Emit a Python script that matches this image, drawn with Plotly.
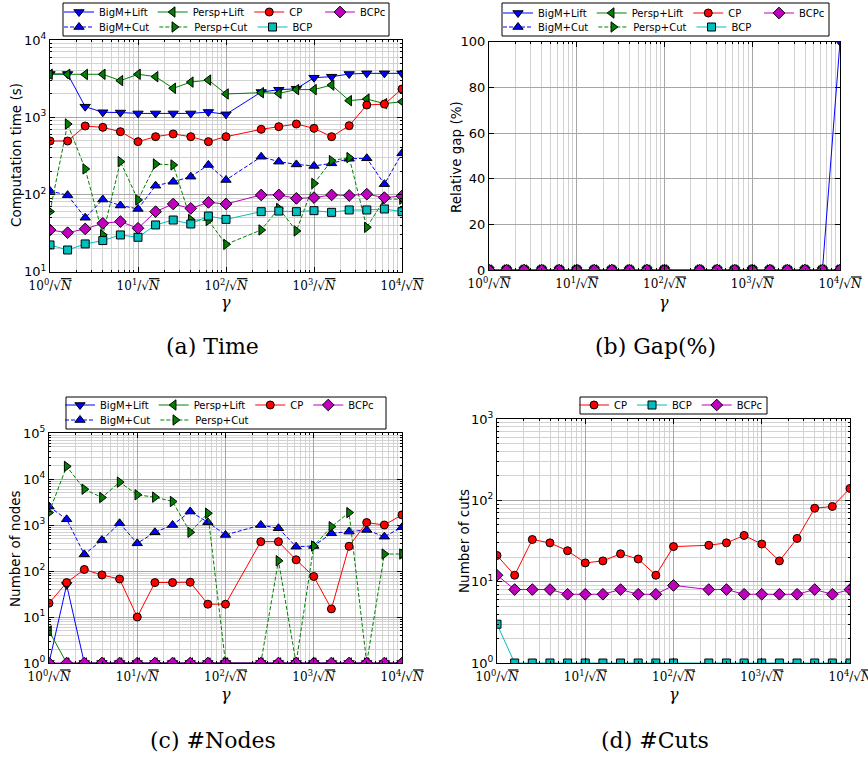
import plotly.graph_objects as go

W, H = 868, 760

# gamma * sqrt(N)  (x positions, log scale)
gamma = [1.0, 1.585, 2.512, 3.981, 6.310, 10.0, 15.85, 25.12, 39.81, 63.10, 100.0,
         251.2, 398.1, 631.0, 1000.0, 1585.0, 2512.0, 3981.0, 6310.0, 10000.0]

x_tick_vals = [1, 10, 100, 1000, 10000]
x_tick_text = ["10<sup>0</sup>/√<span style='text-decoration:overline'><i>N</i></span>",
               "10<sup>1</sup>/√<span style='text-decoration:overline'><i>N</i></span>",
               "10<sup>2</sup>/√<span style='text-decoration:overline'><i>N</i></span>",
               "10<sup>3</sup>/√<span style='text-decoration:overline'><i>N</i></span>",
               "10<sup>4</sup>/√<span style='text-decoration:overline'><i>N</i></span>"]

# (a) computation time (s)
time_bigm_lift = [3630, 3630, 1370, 1160, 1150, 1120, 1120, 1120, 1120, 1170, 1090,
                  2120, 2270, 2340, 3250, 3350, 3630, 3700, 3700, 3700]
time_bigm_cut = [111, 98, 50, 86, 72, 65, 130, 146, 170, 241, 154,
                 308, 266, 245, 234, 253, 290, 294, 136, 341]
time_persp_lift = [3600, 3600, 3580, 3600, 2980, 3600, 3350, 2370, 2850, 3030, 2000,
                   2080, 2040, 2280, 2280, 2610, 1640, 1720, 1500, 1590]
time_persp_cut = [60, 817, 214, 30, 266, 85, 248, 241, 47, 46, 22.6,
                  34.7, 66, 33.7, 139, 274, 300, 37.5, 87, 87]
time_cp = [492, 492, 770, 740, 650, 483, 560, 607, 560, 483, 560,
           697, 755, 817, 718, 560, 778, 1440, 1480, 2320]
time_bcp = [22.2, 19.1, 22.9, 25.3, 29.9, 27.9, 40.3, 46.7, 41.5, 52.6, 47.6,
            59.9, 61, 59.9, 61.7, 58.7, 63, 63, 64.9, 59.9]
time_bcpc = [34.7, 32, 35.8, 42.3, 44.5, 36.5, 59.9, 75.3, 66, 79, 75.3,
             98.5, 98.5, 89, 91, 98.5, 97, 101, 91, 95.5]

# (b) relative gap (%)
gap_bigm_lift = [0, 0, 0, 0, 0, 0, 0, 0, 0, 0, 0, 0, 0, 0, 0, 0, 0, 0, 0, 100]
gap_bigm_cut = [0, 0, 0, 0, 0, 0, 0, 0, 0, 0, 0, 0, 0, 0, 0, 0, 0, 0, 0, 0]
gap_persp_lift = [0, 0, 0, 0, 0, 0, 0, 0, 0, 0, 0, 0, 0, 0, 0, 0, 0, 0, 0, 0]
gap_persp_cut = [0, 0, 0, 0, 0, 0, 0, 0, 0, 0, 0, 0, 0, 0, 0, 0, 0, 0, 0, 0]
gap_cp = [0, 0, 0, 0, 0, 0, 0, 0, 0, 0, 0, 0, 0, 0, 0, 0, 0, 0, 0, 0]
gap_bcp = [0, 0, 0, 0, 0, 0, 0, 0, 0, 0, 0, 0, 0, 0, 0, 0, 0, 0, 0, 0]
gap_bcpc = [0, 0, 0, 0, 0, 0, 0, 0, 0, 0, 0, 0, 0, 0, 0, 0, 0, 0, 0, 0]

# (c) number of nodes
nodes_bigm_lift = [1, 50, 1, 1, 1, 1, 1, 1, 1, 1, 1, 1, 1, 1, 1, 1, 1, 1, 1, 1]
nodes_bigm_cut = [2520, 1330, 230, 470, 1090, 400, 695, 1000, 1960, 1150, 607,
                  1000, 850, 338, 350, 660, 718, 780, 558, 893]
nodes_persp_lift = [5, 1, 1, 1, 1, 1, 1, 1, 1, 1, 1, 1, 1, 1, 1, 1, 1, 1, 1, 1]
nodes_persp_cut = [1860, 18800, 6000, 3960, 8550, 4530, 4030, 3240, 695, 1800, 1,
                   1, 167, 1, 350, 920, 1860, 1, 234, 234]
nodes_cp = [20, 56, 108, 82, 67, 10, 56, 56, 57, 19, 19,
            434, 434, 175, 76, 15, 345, 1130, 1000, 1660]
nodes_bcpc = [1, 1, 1, 1, 1, 1, 1, 1, 1, 1, 1, 1, 1, 1, 1, 1, 1, 1, 1, 1]

# (d) number of cuts
cuts_cp = [21, 12, 33, 30, 24, 17, 18, 22, 19, 12, 27,
           28, 30, 37, 29, 18, 34, 80, 84, 140]
cuts_bcp = [3, 1, 1, 1, 1, 1, 1, 1, 1, 1, 1, 1, 1, 1, 1, 1, 1, 1, 1, 1]
cuts_bcpc = [12, 8, 8, 8, 7, 7, 7, 8, 7, 7, 9, 8, 8, 7, 7, 7, 7, 8, 7, 8]

STY = {
    'BigM+Lift': dict(color='#0000ff', symbol='triangle-down', dash='solid', size=9),
    'BigM+Cut': dict(color='#0000ff', symbol='triangle-up', dash='4px,2px', size=9),
    'Persp+Lift': dict(color='#008000', symbol='triangle-left', dash='solid', size=9),
    'Persp+Cut': dict(color='#008000', symbol='triangle-right', dash='4px,2px', size=9),
    'CP': dict(color='#ff0000', symbol='circle', dash='solid', size=8),
    'BCP': dict(color='#00bfbf', symbol='square', dash='solid', size=8),
    'BCPc': dict(color='#bf00bf', symbol='diamond', dash='solid', size=9),
}
ROW1 = ['BigM+Lift', 'Persp+Lift', 'CP', 'BCPc']

panels = [
    ('x', 'y', ['legend', 'legend2'], [
        ('BigM+Lift', time_bigm_lift), ('BigM+Cut', time_bigm_cut),
        ('Persp+Lift', time_persp_lift), ('Persp+Cut', time_persp_cut),
        ('CP', time_cp), ('BCP', time_bcp), ('BCPc', time_bcpc)]),
    ('x2', 'y2', ['legend3', 'legend4'], [
        ('BigM+Lift', gap_bigm_lift), ('BigM+Cut', gap_bigm_cut),
        ('Persp+Lift', gap_persp_lift), ('Persp+Cut', gap_persp_cut),
        ('CP', gap_cp), ('BCP', gap_bcp), ('BCPc', gap_bcpc)]),
    ('x3', 'y3', ['legend5', 'legend6'], [
        ('BigM+Lift', nodes_bigm_lift), ('BigM+Cut', nodes_bigm_cut),
        ('Persp+Lift', nodes_persp_lift), ('Persp+Cut', nodes_persp_cut),
        ('CP', nodes_cp), ('BCPc', nodes_bcpc)]),
    ('x4', 'y4', ['legend7', 'legend7'], [
        ('CP', cuts_cp), ('BCP', cuts_bcp), ('BCPc', cuts_bcpc)]),
]

NB = '\u00a0'
pad_names = {'legend': {'CP': 'CP' + NB * 4}, 'legend3': {'CP': 'CP' + NB * 4}}

fig = go.Figure()
for xa, ya, legs, series in panels:
    for name, vals in series:
        s = STY[name]
        leg = legs[0] if name in ROW1 else legs[1]
        disp = pad_names.get(leg, {}).get(name, name)
        fig.add_trace(go.Scatter(
            x=gamma, y=vals, xaxis=xa, yaxis=ya, name=disp, legend=leg,
            mode='lines+markers',
            line=dict(color=s['color'], width=1, dash=s['dash']),
            marker=dict(symbol=s['symbol'], size=s['size'], color=s['color'],
                        line=dict(color='black', width=1)),
        ))


def px(p):
    return p / W


def py(p):
    return 1 - p / H


# plot areas in pixels: (left, right, top, bottom)
boxes = {
    '': (50, 402, 40, 271.7),
    '2': (489, 840, 41.7, 270),
    '3': (49, 402, 433, 663),
    '4': (497, 850, 419, 663),
}

minor_x = [m * 10 ** k for k in range(4) for m in range(2, 10)]
GRID_MAJ = '#a6a6a6'
GRID_MIN = '#d2d2d2'
TICKFONT_X = dict(family='DejaVu Serif', size=12, color='black')
TICKFONT_Y = dict(family='DejaVu Sans', size=13, color='black')

ylog = {
    '': (1, 4),
    '3': (0, 5),
    '4': (0, 3),
}

layout = dict(width=W, height=H, margin=dict(l=0, r=0, t=0, b=0, pad=0, autoexpand=False),
              paper_bgcolor='white', plot_bgcolor='white', showlegend=True)

for k, (l, r, t, b) in boxes.items():
    xname = 'xaxis' + k
    yname = 'yaxis' + k
    layout[xname] = dict(
        type='log', range=[0, 4], domain=[px(l), px(r)], anchor='y' + k,
        tickmode='array', tickvals=x_tick_vals, ticktext=x_tick_text, automargin=False,
        ticklabeloverflow='allow', ticklabelstandoff=3,
        tickfont=TICKFONT_X, ticks='inside', ticklen=5, tickcolor='black',
        showline=True, linecolor='black', linewidth=1, mirror='ticks',
        showgrid=True, gridcolor=GRID_MAJ, gridwidth=1, zeroline=False,
        minor=dict(tickmode='array', tickvals=minor_x, ticks='inside', ticklen=2,
                   tickcolor='black', showgrid=True, gridcolor=GRID_MIN, gridwidth=1),
    )
    if k in ylog:
        lo, hi = ylog[k]
        tv = [10 ** e for e in range(lo, hi + 1)]
        tt = ['10<sup>%d</sup>' % e for e in range(lo, hi + 1)]
        mv = [m * 10 ** e for e in range(lo, hi) for m in range(2, 10)]
        layout[yname] = dict(
            type='log', range=[lo, hi], domain=[py(b), py(t)], anchor='x' + k,
            tickmode='array', tickvals=tv, ticktext=tt, tickfont=TICKFONT_Y, automargin=False,
            ticks='inside', ticklen=5, tickcolor='black',
            showline=True, linecolor='black', linewidth=1, mirror='ticks',
            showgrid=True, gridcolor=GRID_MAJ, gridwidth=1, zeroline=False,
            minor=dict(tickmode='array', tickvals=mv, ticks='inside', ticklen=2,
                       tickcolor='black', showgrid=True, gridcolor=GRID_MIN, gridwidth=1),
        )
    else:
        layout[yname] = dict(
            type='linear', range=[0, 100], domain=[py(b), py(t)], anchor='x' + k,
            tickmode='linear', tick0=0, dtick=20, tickfont=TICKFONT_Y, automargin=False,
            ticks='inside', ticklen=5, tickcolor='black',
            showline=True, linecolor='black', linewidth=1, mirror='ticks',
            showgrid=True, gridcolor=GRID_MAJ, gridwidth=1, zeroline=False,
        )

LEGFONT = dict(family='DejaVu Sans', size=10, color='black')
# legend rows: (name, text-left px, row-center px)
leg_pos = {
    'legend': (99, 12), 'legend2': (99, 27),
    'legend3': (538, 13), 'legend4': (538, 27),
    'legend5': (100, 405), 'legend6': (100, 420),
    'legend7': (614, 405),
}
for name, (tx, cy) in leg_pos.items():
    layout[name] = dict(x=px(tx - 40), y=py(cy), xanchor='left', yanchor='middle',
                        orientation='h', font=LEGFONT, bgcolor='rgba(0,0,0,0)',
                        borderwidth=0, itemwidth=30, tracegroupgap=0)

shapes = []
for (x0, y0, x1, y1) in [(63, 3, 389, 36), (502, 3, 829, 36), (66, 397, 386, 429), (580, 397, 767, 414)]:
    shapes.append(dict(type='rect', xref='paper', yref='paper', x0=px(x0), x1=px(x1),
                       y0=py(y1), y1=py(y0), line=dict(color='black', width=1),
                       fillcolor='rgba(0,0,0,0)', layer='above'))
layout['shapes'] = shapes

ann = []
TITLEFONT = dict(family='DejaVu Sans', size=13.5, color='black')
for text, x, y in [('Computation time (s)', 16, 155), ('Relative gap (%)', 456, 157),
                   ('Number of nodes', 15, 549), ('Number of cuts', 464, 541)]:
    ann.append(dict(text=text, x=px(x), y=py(y), xref='paper', yref='paper',
                    showarrow=False, textangle=-90, font=TITLEFONT,
                    xanchor='center', yanchor='middle'))
for x, y in [(226, 302), (664, 302), (226, 694), (674, 694)]:
    ann.append(dict(text='<i>γ</i>', x=px(x), y=py(y), xref='paper', yref='paper',
                    showarrow=False, font=dict(family='DejaVu Serif', size=16, color='black'),
                    xanchor='center', yanchor='middle'))
for text, x, y in [('(a) Time', 212, 347), ('(b) Gap(%)', 655, 347),
                   ('(c) #Nodes', 213, 740), ('(d) #Cuts', 655, 740)]:
    ann.append(dict(text=text, x=px(x), y=py(y), xref='paper', yref='paper',
                    showarrow=False, font=dict(family='DejaVu Serif', size=22, color='black'),
                    xanchor='center', yanchor='middle'))
layout['annotations'] = ann

fig.update_layout(**layout)
fig.write_html('out.html', config={'displayModeBar': False, 'staticPlot': True},
               post_script="document.body.style.margin='0px';document.body.style.overflow='hidden';")
